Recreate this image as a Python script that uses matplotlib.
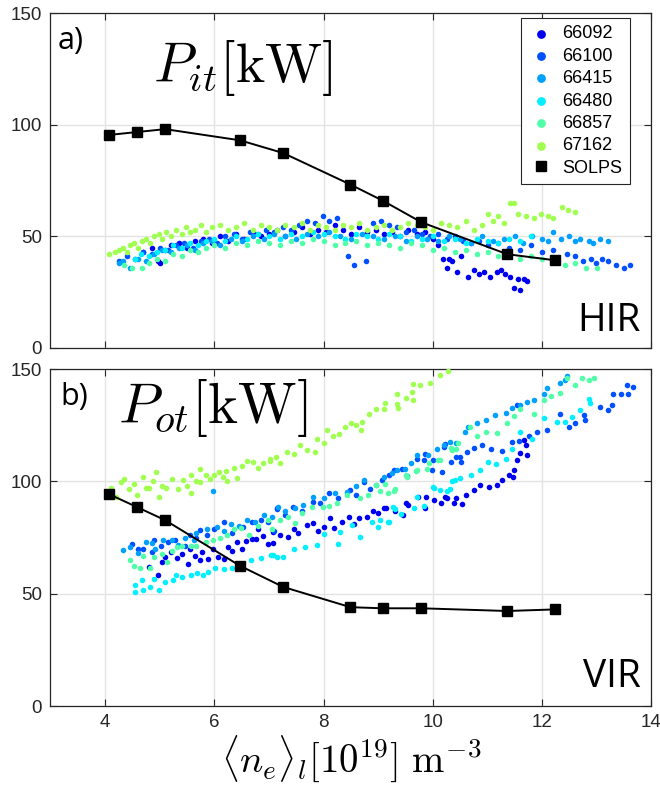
import matplotlib
matplotlib.use("Agg")
import matplotlib.pyplot as plt
from matplotlib import font_manager
import numpy as np

plt.rcParams['mathtext.fontset'] = 'cm'
plt.rcParams['font.family'] = ['Liberation Sans', 'DejaVu Sans']

installed = {f.name for f in font_manager.fontManager.ttflist}
tick_family = 'Liberation Sans Narrow' if 'Liberation Sans Narrow' in installed else 'Liberation Sans'
tick_size = 15 if tick_family == 'Liberation Sans Narrow' else 13.5

shots = ['66092', '66100', '66415', '66480', '66857', '67162']
colors = ['#0000F0', '#0050FF', '#00A0FF', '#00F0FF', '#50FFA8', '#A0FF50']

solps_x = [4.07, 4.58, 5.10, 6.47, 7.26, 8.49, 9.08, 9.79, 11.36, 12.23]
solps_pit = [95.4, 96.7, 98.0, 93.0, 87.3, 73.2, 66.0, 56.3, 42.0, 39.3]
solps_pot = [94.3, 88.6, 82.7, 62.4, 53.0, 44.0, 43.5, 43.5, 42.3, 43.0]

# ---- panel a) P_it scatter data ----
t66092_x = [4.70, 4.85, 4.97, 5.00, 5.09, 5.20, 5.35, 5.50, 5.65, 5.80, 5.95, 6.10, 6.25, 6.40, 6.55, 6.70, 6.85, 7.00, 7.15, 7.30, 7.45, 7.60, 7.75, 7.90, 8.05, 8.20, 8.35, 8.50, 8.65, 8.80, 8.95, 9.10, 9.25, 9.40, 9.55, 9.70, 9.85, 10.00, 10.10, 10.19, 10.26, 10.30, 10.35, 10.44, 10.52, 10.65, 10.75, 10.85, 10.93, 11.05, 11.17, 11.25, 11.32, 11.41, 11.48, 11.55, 11.60, 11.67, 11.73]
t66092_y = [43, 45, 39, 38, 44, 46, 47, 45, 48, 49, 47, 50, 48, 51, 49, 52, 50, 51, 53, 50, 52, 54, 51, 53, 52, 55, 53, 51, 54, 52, 53, 51, 52, 50, 53, 51, 52, 49, 46, 40, 36, 40, 39, 34, 41, 32, 35, 33, 34, 32, 34, 35, 33, 32, 27, 31, 26, 31, 30]

t66100_x = [4.25, 4.40, 4.55, 4.70, 4.85, 5.00, 5.15, 5.30, 5.45, 5.60, 5.75, 5.90, 6.05, 6.20, 6.35, 6.50, 6.65, 6.80, 6.95, 7.10, 7.25, 7.40, 7.55, 7.70, 7.85, 7.99, 8.10, 8.25, 8.44, 8.56, 8.78, 8.90, 9.05, 9.20, 9.35, 9.50, 9.65, 9.80, 9.95, 10.10, 10.25, 10.40, 10.55, 10.70, 10.85, 11.00, 11.20, 11.40, 11.60, 11.80, 12.00, 12.20, 12.45, 12.60, 12.75, 12.90, 12.98, 13.10, 13.20, 13.35, 13.49, 13.60]
t66100_y = [39, 41, 40, 43, 42, 45, 44, 46, 47, 45, 48, 49, 47, 50, 51, 49, 52, 51, 53, 52, 54, 53, 55, 57, 56, 59, 57, 58, 41, 37, 39, 56, 57, 55, 54, 52, 53, 51, 50, 51, 49, 50, 48, 47, 48, 46, 47, 45, 44, 46, 43, 44, 42, 41, 39, 40, 38, 40, 39, 37, 36, 37]

t66415_x = [4.25, 4.32, 4.46, 4.60, 4.75, 4.90, 5.05, 5.20, 5.35, 5.50, 5.65, 5.80, 5.95, 6.10, 6.30, 6.50, 6.70, 6.90, 7.10, 7.30, 7.50, 7.70, 7.90, 8.10, 8.30, 8.50, 8.70, 8.90, 9.10, 9.30, 9.50, 9.70, 9.90, 10.10, 10.30, 10.50, 10.70, 10.90, 11.10, 11.30, 11.50, 11.65, 11.81, 12.00, 12.10, 12.20, 12.35, 12.50, 12.60, 12.70, 12.85, 12.93, 13.05, 13.20]
t66415_y = [38, 39, 36, 40, 39, 42, 44, 43, 45, 46, 44, 47, 48, 46, 49, 48, 50, 49, 51, 50, 49, 51, 50, 52, 50, 49, 51, 50, 49, 50, 48, 50, 49, 48, 50, 49, 47, 50, 48, 49, 50, 47, 50, 49, 48, 52, 49, 50, 48, 49, 48, 47, 49, 48]

t66480_x = [4.55, 4.65, 4.80, 4.95, 5.10, 5.25, 5.40, 5.55, 5.70, 5.85, 6.00, 6.20, 6.40, 6.60, 6.80, 7.00, 7.20, 7.40, 7.60, 7.80, 8.00, 8.20, 8.40, 8.60, 8.80, 9.00, 9.20, 9.40, 9.60, 9.80, 10.00, 10.20, 10.40, 10.60, 10.80, 11.00, 11.20, 11.40, 11.60, 11.80]
t66480_y = [40, 42, 41, 43, 44, 46, 45, 47, 46, 48, 49, 48, 50, 49, 51, 50, 49, 51, 50, 52, 51, 50, 49, 51, 50, 49, 51, 50, 48, 49, 50, 48, 49, 47, 49, 48, 47, 49, 48, 50]

t66857_x = [4.35, 4.50, 4.67, 4.80, 4.95, 5.10, 5.25, 5.40, 5.55, 5.70, 5.85, 6.00, 6.20, 6.40, 6.60, 6.80, 7.00, 7.20, 7.40, 7.60, 7.80, 8.00, 8.20, 8.40, 8.60, 8.80, 9.00, 9.20, 9.40, 9.60, 9.80, 10.00, 10.20, 10.40, 10.60, 10.80, 11.00, 11.20, 11.40, 11.60, 11.80, 12.00, 12.20, 12.42, 12.60, 12.80, 13.00]
t66857_y = [37, 36, 36, 38, 40, 39, 42, 41, 44, 43, 45, 46, 45, 47, 46, 48, 47, 46, 48, 47, 49, 48, 46, 47, 48, 46, 47, 46, 45, 47, 46, 44, 45, 43, 44, 42, 43, 41, 42, 40, 41, 40, 39, 37, 38, 36, 36]

t67162_x = [4.08, 4.18, 4.25, 4.32, 4.40, 4.45, 4.52, 4.60, 4.68, 4.75, 4.82, 4.90, 4.98, 5.05, 5.12, 5.20, 5.30, 5.40, 5.48, 5.55, 5.65, 5.75, 5.85, 5.95, 6.10, 6.25, 6.40, 6.55, 6.70, 6.85, 7.00, 7.15, 7.30, 7.45, 7.60, 7.75, 7.90, 8.05, 8.20, 8.35, 8.50, 8.65, 8.80, 8.95, 9.10, 9.25, 9.40, 9.55, 9.70, 9.85, 10.00, 10.15, 10.30, 10.45, 10.60, 10.75, 10.90, 11.00, 11.10, 11.20, 11.30, 11.42, 11.48, 11.55, 11.70, 11.85, 11.97, 12.10, 12.20, 12.36, 12.48, 12.60]
t67162_y = [42, 43, 44, 45, 43, 46, 47, 45, 48, 49, 47, 50, 51, 49, 52, 50, 53, 51, 54, 52, 53, 55, 52, 54, 55, 53, 54, 56, 53, 55, 54, 53, 55, 54, 56, 53, 55, 54, 53, 55, 54, 56, 53, 54, 55, 53, 54, 56, 55, 54, 53, 56, 55, 54, 57, 53, 55, 60, 57, 59, 56, 65, 65, 60, 59, 58, 60, 59, 58, 63, 62, 61]

# ---- panel b) P_ot scatter data ----
b66092_x = [4.80, 4.96, 5.05, 5.10, 5.20, 5.31, 5.40, 5.52, 5.55, 5.65, 5.74, 5.77, 5.89, 5.98, 6.07, 6.18, 6.25, 6.32, 6.41, 6.50, 6.58, 6.68, 6.76, 6.80, 6.89, 6.98, 7.07, 7.08, 7.20, 7.35, 7.45, 7.53, 7.69, 7.81, 7.90, 8.00, 8.12, 8.19, 8.34, 8.47, 8.55, 8.65, 8.80, 8.90, 8.99, 9.10, 9.15, 9.30, 9.45, 9.50, 9.54, 9.72, 9.85, 9.87, 10.02, 10.14, 10.23, 10.26, 10.38, 10.42, 10.53, 10.60, 10.75, 10.87, 11.03, 11.18, 11.27, 11.40, 11.46, 11.49, 11.54, 11.60, 11.67, 11.70, 11.73]
b66092_y = [62, 58.3, 64, 66.2, 68.4, 66, 67.7, 63, 70, 67, 64.8, 68.4, 65.5, 70, 66.2, 65.6, 71, 69, 73, 70, 73.5, 74.4, 74.4, 78.9, 75.8, 72, 77.4, 72.4, 76, 75.4, 79, 76.8, 80.5, 81.4, 78, 79.9, 83.6, 79.1, 82, 84.3, 81, 83.6, 84.3, 87, 85.7, 88, 88, 86.6, 85, 90.5, 89.5, 93.2, 88, 93.2, 91.8, 90.3, 93.2, 92.4, 90.2, 92.5, 89.9, 94, 96, 98.4, 97.6, 98.4, 100.7, 103, 102, 105, 109.5, 112.5, 118.4, 116, 111.7]

b66100_x = [4.49, 4.60, 4.70, 4.85, 4.89, 5.03, 5.15, 5.28, 5.46, 5.55, 5.67, 5.74, 5.86, 6.00, 6.18, 6.32, 6.53, 6.68, 6.86, 6.99, 7.10, 7.14, 7.14, 7.30, 7.44, 7.60, 7.81, 7.93, 8.09, 8.27, 8.48, 8.60, 8.73, 8.85, 9.07, 9.20, 9.28, 9.43, 9.52, 9.70, 9.83, 9.85, 9.99, 10.00, 10.16, 10.20, 10.22, 10.34, 10.43, 10.50, 10.52, 10.62, 10.75, 10.89, 11.07, 11.26, 11.45, 11.54, 11.57, 11.75, 11.90, 12.08, 12.33, 12.49, 12.60, 12.76, 12.79, 13.06, 13.21, 13.27, 13.30, 13.45, 13.55, 13.58, 13.67]
b66100_y = [72, 70, 69.7, 68.4, 74, 71.2, 73, 74, 71.2, 76, 74.8, 78.3, 76, 78.7, 82, 77, 79.5, 81.8, 82.6, 81.8, 78, 87.7, 88, 85, 88.7, 86.6, 91, 90.3, 94.6, 92.4, 96, 94, 99.8, 96.8, 100.5, 103, 105, 105.6, 102.6, 110, 109.5, 112.3, 105, 109.4, 104, 115.4, 116.7, 108.6, 110.8, 111, 108.6, 113, 115, 116, 114.6, 113.7, 117.4, 134, 118, 120, 122, 123, 129.8, 124, 126, 129.5, 127.3, 133.2, 131.7, 134, 139, 139, 142.8, 139, 142]

b66415_x = [4.33, 4.45, 4.60, 4.75, 4.85, 4.91, 5.06, 5.22, 5.34, 5.46, 5.62, 5.67, 5.86, 5.98, 6.05, 6.18, 6.30, 6.45, 6.60, 6.75, 6.90, 7.05, 7.17, 7.29, 7.47, 7.63, 7.81, 8.00, 8.20, 8.42, 8.60, 8.73, 8.96, 9.10, 9.25, 9.34, 9.49, 9.60, 9.70, 9.91, 10.07, 10.20, 10.31, 10.43, 10.58, 10.65, 10.80, 10.98, 11.13, 11.33, 11.45, 11.60, 11.73, 11.85, 12.03, 12.09, 12.33, 12.42, 12.45]
b66415_y = [69.4, 71, 68, 73, 72.4, 70, 74, 73.7, 71.5, 74.8, 74, 77, 78.7, 95.7, 79.5, 78, 81, 80, 83, 82, 85, 84, 88.7, 86.6, 88, 89.5, 93.2, 92.5, 94.6, 95.4, 98, 100.5, 98.3, 102, 103.5, 105, 105.6, 108, 111.6, 111.6, 114.6, 116, 117.6, 116.9, 122, 124.3, 125.8, 127.3, 129.5, 130.3, 132.5, 134, 135.5, 136.2, 139, 141.5, 143.8, 145, 147]

b66480_x = [4.55, 4.55, 4.67, 4.70, 4.83, 4.89, 4.98, 5.10, 5.24, 5.30, 5.40, 5.57, 5.69, 5.80, 5.88, 6.01, 6.17, 6.33, 6.50, 6.67, 6.85, 7.03, 7.08, 7.15, 7.25, 7.45, 7.66, 7.87, 8.00, 8.27, 8.30, 8.51, 8.67, 8.88, 8.99, 9.03, 9.18, 9.20, 9.27, 9.30, 9.42, 9.66, 9.70, 9.84, 10.00, 10.02, 10.13, 10.26, 10.31, 10.35, 10.40, 10.50, 10.70, 10.87, 11.00, 11.15, 11.33, 11.45, 11.60, 11.82, 12.03, 12.27, 12.42, 12.54, 12.70, 12.85, 12.87]
b66480_y = [50.9, 53.8, 56, 51.8, 53, 56.7, 51.5, 55, 56, 58.3, 57.5, 58.3, 59, 58.3, 59.8, 61.3, 61, 61.3, 63, 65, 65.8, 67.2, 67.2, 66.5, 66.5, 70, 70.8, 71.5, 76.7, 72.3, 77.4, 80.4, 75.2, 81.8, 79.6, 82.8, 82, 81.8, 88.7, 87.7, 85.4, 88.3, 93.2, 89, 97.6, 97, 96, 95.7, 96.8, 100, 100.5, 101.3, 103, 105, 108.6, 107.9, 110, 114.6, 122, 119, 128, 126.6, 126.6, 128.8, 131.7, 136.5, 134.7]

b66857_x = [4.46, 4.52, 4.64, 4.70, 4.83, 4.89, 5.04, 5.13, 5.22, 5.31, 5.40, 5.58, 5.67, 5.85, 5.98, 6.10, 6.23, 6.35, 6.48, 6.63, 6.79, 6.99, 7.05, 7.20, 7.35, 7.48, 7.60, 7.78, 7.99, 8.10, 8.24, 8.42, 8.66, 8.81, 8.96, 9.03, 9.12, 9.18, 9.28, 9.30, 9.50, 9.52, 9.69, 9.70, 9.89, 9.93, 10.10, 10.13, 10.34, 10.35, 10.43, 10.46, 10.68, 10.80, 10.98, 11.17, 11.35, 11.48, 11.60, 11.85, 12.03, 12.16, 12.33, 12.45, 12.60, 12.73, 12.85, 12.94]
b66857_y = [65, 62.3, 61.5, 67, 61.5, 66.2, 67.7, 64, 69.1, 70.6, 71.2, 71.2, 71.2, 73, 74, 75, 76.3, 78.6, 79.4, 76.3, 80.2, 82.6, 78.6, 82.7, 84, 81.3, 86, 88.7, 88.7, 89, 90.2, 93.9, 92.4, 93.9, 98.3, 95.7, 99, 95, 95.7, 96.8, 103, 102, 104.5, 105, 105.6, 108.2, 109.4, 109.7, 114.9, 113.9, 114.6, 117.2, 124, 120, 122, 121.6, 126, 129, 132, 130, 136, 138.2, 139.4, 146, 142.8, 146, 145.2, 146]

b67162_x = [4.10, 4.20, 4.29, 4.35, 4.44, 4.52, 4.59, 4.69, 4.75, 4.81, 4.88, 4.94, 4.98, 5.04, 5.12, 5.22, 5.34, 5.43, 5.50, 5.57, 5.58, 5.66, 5.74, 5.74, 5.85, 5.92, 6.00, 6.08, 6.15, 6.21, 6.23, 6.35, 6.42, 6.50, 6.59, 6.71, 6.80, 6.89, 7.01, 7.02, 7.13, 7.20, 7.33, 7.45, 7.57, 7.70, 7.84, 7.87, 8.00, 8.07, 8.18, 8.28, 8.40, 8.50, 8.60, 8.68, 8.71, 8.83, 8.95, 9.10, 9.13, 9.34, 9.34, 9.37, 9.50, 9.62, 9.63, 9.64, 9.77, 9.95, 10.13, 10.28]
b67162_y = [97, 93, 99.6, 101, 96.4, 99, 94, 102, 97, 97, 100, 104, 93, 98, 97, 101, 96.6, 100.7, 98, 95, 103, 100, 105.5, 99.5, 103, 101, 103, 104, 102, 104.7, 100, 105.8, 101.6, 107, 109, 108.6, 106, 108, 109, 110, 111, 108, 113, 112, 116, 114, 113, 119, 117, 123, 120, 121, 124, 126, 125, 123, 126.6, 130, 132, 132, 134.7, 139, 134.6, 132.5, 137, 139.8, 136.2, 143.3, 142.8, 144, 147.3, 149.3]

top_sets = [(t66092_x, t66092_y), (t66100_x, t66100_y), (t66415_x, t66415_y),
            (t66480_x, t66480_y), (t66857_x, t66857_y), (t67162_x, t67162_y)]
bot_sets = [(b66092_x, b66092_y), (b66100_x, b66100_y), (b66415_x, b66415_y),
            (b66480_x, b66480_y), (b66857_x, b66857_y), (b67162_x, b67162_y)]

fig = plt.figure(figsize=(6.6, 7.85), dpi=100)
ax1 = fig.add_axes([0.0765, 0.5567, 0.9105, 0.4267])
ax2 = fig.add_axes([0.0765, 0.1006, 0.9105, 0.4293])

spine_col = '#262626'
for ax in (ax1, ax2):
    ax.set_xlim(3, 14)
    ax.set_ylim(0, 150)
    ax.set_xticks([4, 6, 8, 10, 12, 14])
    ax.set_yticks([0, 50, 100, 150])
    ax.grid(True, color='#e3e3e3', lw=1.0)
    ax.set_axisbelow(True)
    ax.tick_params(direction='in', length=5, width=0.8, top=True, right=True,
                   labelsize=tick_size, colors=spine_col, pad=6)
    for lbl in ax.get_xticklabels() + ax.get_yticklabels():
        lbl.set_family(tick_family)
    for s in ax.spines.values():
        s.set_color(spine_col)
        s.set_linewidth(0.9)

ax1.tick_params(labelbottom=False)

for (xs, ys), c, lab in zip(top_sets, colors, shots):
    ax1.scatter(xs, ys, s=16, color=c, linewidths=0, label=lab, zorder=3)
for (xs, ys), c in zip(bot_sets, colors):
    ax2.scatter(xs, ys, s=16, color=c, linewidths=0, zorder=3)

ax1.plot(solps_x, solps_pit, '-', color='black', lw=1.4, zorder=4)
ax1.plot(solps_x, solps_pit, 's', color='black', ms=7.5, zorder=5, label='SOLPS')
ax2.plot(solps_x, solps_pot, '-', color='black', lw=1.4, zorder=4)
ax2.plot(solps_x, solps_pot, 's', color='black', ms=7.5, zorder=5)

leg = ax1.legend(loc='upper right', bbox_to_anchor=(0.964, 0.985), borderaxespad=0,
                 prop={'family': 'Liberation Sans', 'size': 13},
                 frameon=True, fancybox=False, framealpha=1, edgecolor=spine_col,
                 labelspacing=0.3, handlelength=1.4,
                 handletextpad=0.5, borderpad=0.4)
leg.get_frame().set_linewidth(0.8)
for h in leg.legend_handles[:6]:
    h.set_sizes([40])
leg.legend_handles[6].set_markersize(7)

txt_font = ['Open Sans', 'DejaVu Sans']
ax1.text(0.012, 0.962, 'a)', transform=ax1.transAxes, ha='left', va='top',
         fontsize=22, family=txt_font, color='black')
ax2.text(0.016, 0.962, 'b)', transform=ax2.transAxes, ha='left', va='top',
         fontsize=22, family=txt_font, color='black')
ax1.text(0.17, 0.794, r'$P_{it}[\mathrm{kW}]$', transform=ax1.transAxes,
         ha='left', va='baseline', fontsize=40)
ax2.text(0.113, 0.84, r'$P_{ot}[\mathrm{kW}]$', transform=ax2.transAxes,
         ha='left', va='baseline', fontsize=41)
ax1.text(0.982, 0.025, 'HIR', transform=ax1.transAxes, ha='right', va='bottom',
         fontsize=28, family=txt_font)
ax2.text(0.982, 0.03, 'VIR', transform=ax2.transAxes, ha='right', va='bottom',
         fontsize=28, family=txt_font)

ax2.set_xlabel(r'$\langle n_e\rangle_l[10^{19}]\ \mathrm{m}^{-3}$', fontsize=28, labelpad=1)

fig.savefig('out.png', dpi=100)
